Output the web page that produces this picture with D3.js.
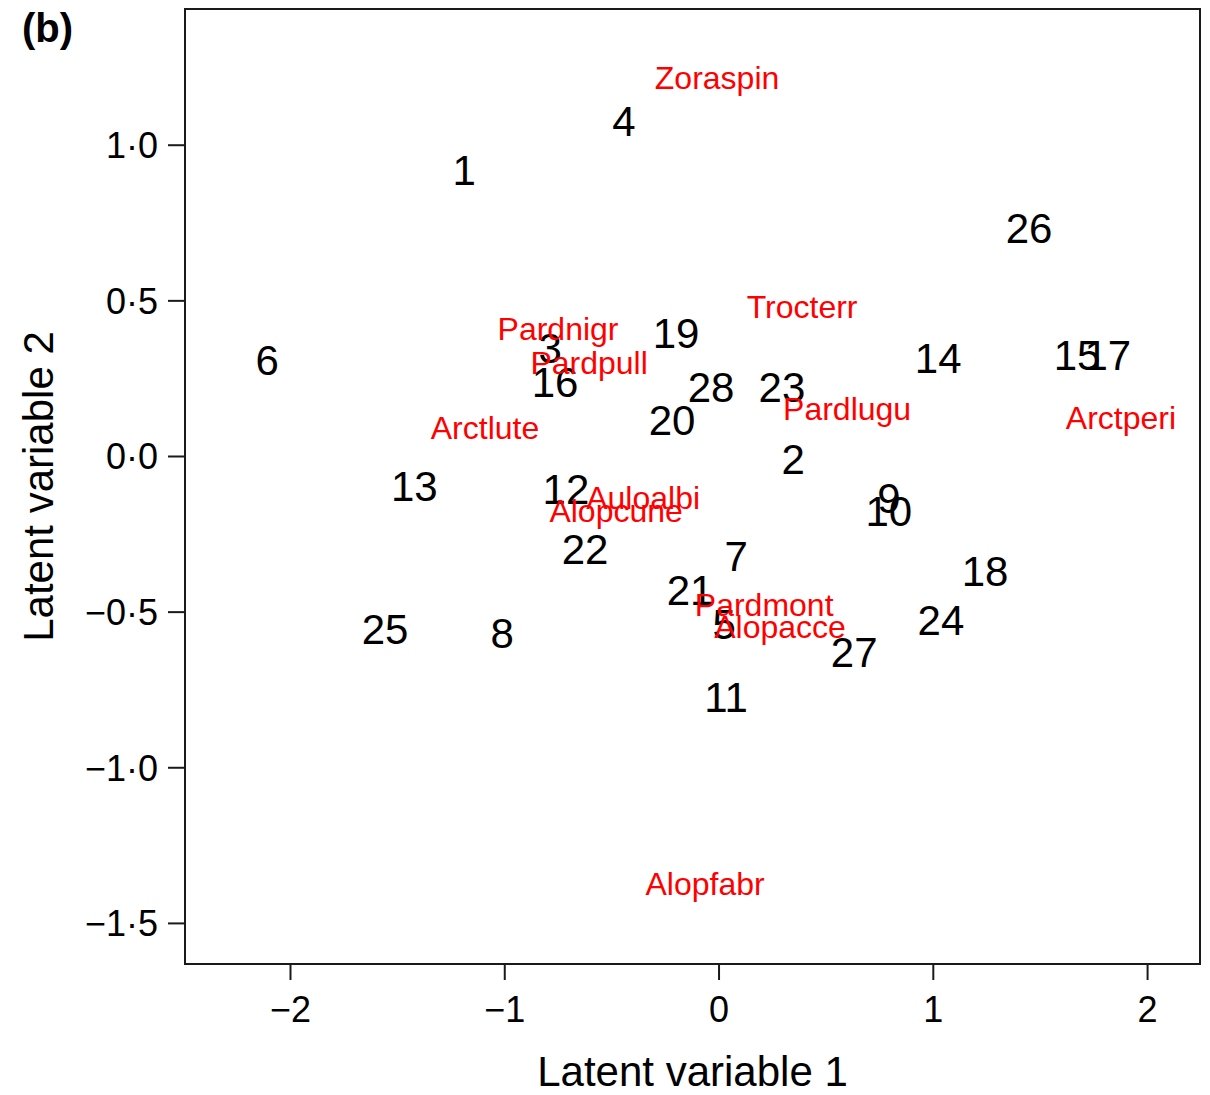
<!DOCTYPE html>
<html>
<head>
<meta charset="utf-8">
<script src="https://cdn.jsdelivr.net/npm/d3@7"></script>
<style>
  html, body { margin: 0; padding: 0; background: #fff; }
  svg { display: block; font-family: "Liberation Sans", Arial, Helvetica, sans-serif; }
</style>
</head>
<body>
<svg id="chart" width="1210" height="1095"></svg>
<script>
// Site scores (latent variables), labelled by site number
const siteLabels = ["1","2","3","4","5","6","7","8","9","10","11","12","13","14","15","16","17","18","19","20","21","22","23","24","25","26","27","28"];
const siteLV1 = [-1.187, 0.348, -0.786, -0.441, 0.026, -2.107, 0.082, -1.010, 0.795, 0.795, 0.035, -0.712, -1.420, 1.025, 1.673, -0.763, 1.817, 1.244, -0.198, -0.217, -0.133, -0.623, 0.296, 1.038, -1.556, 1.449, 0.633, -0.035];
const siteLV2 = [0.919, -0.010, 0.347, 1.076, -0.540, 0.308, -0.321, -0.569, -0.135, -0.177, -0.774, -0.106, -0.096, 0.315, 0.324, 0.238, 0.324, -0.370, 0.395, 0.116, -0.431, -0.299, 0.222, -0.527, -0.556, 0.733, -0.630, 0.222];

// Species loadings
const speciesLabels = ["Zoraspin","Trocterr","Pardnigr","Pardpull","Arctlute","Pardlugu","Arctperi","Auloalbi","Alopcune","Pardmont","Alopacce","Alopfabr"];
const speciesLV1 = [-0.007, 0.390, -0.749, -0.604, -1.090, 0.600, 1.878, -0.352, -0.478, 0.213, 0.287, -0.063];
const speciesLV2 = [1.215, 0.479, 0.408, 0.299, 0.090, 0.154, 0.122, -0.132, -0.174, -0.476, -0.549, -1.372];

// Axis ticks
const xTicks = [-2, -1, 0, 1, 2];
const xTickLabels = ["\u22122", "\u22121", "0", "1", "2"];
const yTicks = [1.0, 0.5, 0.0, -0.5, -1.0, -1.5];
const yTickLabels = ["1\u00B70", "0\u00B75", "0\u00B70", "\u22120\u00B75", "\u22121\u00B70", "\u22121\u00B75"];

const xTitle = "Latent variable 1";
const yTitle = "Latent variable 2";
const panelLabel = "(b)";

const svg = d3.select("#chart");
const mLeft = 185, mRight = 1200, mTop = 9, mBottom = 964;

const x = d3.scaleLinear().domain([-2.49, 2.247]).range([mLeft, mRight]);
const y = d3.scaleLinear().domain([-1.632, 1.436]).range([mBottom, mTop]);

const ink = "#1a1a1a";

// X axis
const xAxis = d3.axisBottom(x).tickValues(xTicks)
  .tickFormat((d, i) => xTickLabels[i]).tickSize(16).tickPadding(8);
const gx = svg.append("g").attr("transform", `translate(0,${mBottom})`).call(xAxis);
gx.select(".domain").remove();
gx.selectAll(".tick line").attr("stroke", ink).attr("stroke-width", 2);
gx.selectAll(".tick text").attr("fill", "#000").attr("font-size", 36)
  .attr("font-family", "Liberation Sans, Arial, sans-serif").attr("dy", "0.95em");

// Y axis
const yAxis = d3.axisLeft(y).tickValues(yTicks)
  .tickFormat((d, i) => yTickLabels[i]).tickSize(17).tickPadding(10);
const gy = svg.append("g").attr("transform", `translate(${mLeft},0)`).call(yAxis);
gy.select(".domain").remove();
gy.selectAll(".tick line").attr("stroke", ink).attr("stroke-width", 2);
gy.selectAll(".tick text").attr("fill", "#000").attr("font-size", 36)
  .attr("font-family", "Liberation Sans, Arial, sans-serif").attr("dy", "0.36em");

// Plot box
svg.append("rect").attr("x", mLeft).attr("y", mTop)
  .attr("width", mRight - mLeft).attr("height", mBottom - mTop)
  .attr("fill", "none").attr("stroke", ink).attr("stroke-width", 2);

// Site numbers
svg.append("g").selectAll("text").data(siteLabels).join("text")
  .attr("x", (d, i) => x(siteLV1[i]))
  .attr("y", (d, i) => y(siteLV2[i]))
  .attr("dy", "0.358em")
  .attr("text-anchor", "middle")
  .attr("font-size", 42)
  .attr("fill", "#000")
  .text(d => d);

// Species names
svg.append("g").selectAll("text").data(speciesLabels).join("text")
  .attr("x", (d, i) => x(speciesLV1[i]))
  .attr("y", (d, i) => y(speciesLV2[i]))
  .attr("dy", "0.358em")
  .attr("text-anchor", "middle")
  .attr("font-size", 32)
  .attr("fill", "#ff0000")
  .text(d => d);

// Axis titles
svg.append("text").attr("x", (mLeft + mRight) / 2).attr("y", 1086)
  .attr("text-anchor", "middle").attr("font-size", 42).attr("fill", "#000").text(xTitle);
svg.append("text").attr("transform", `translate(53,${(mTop + mBottom) / 2}) rotate(-90)`)
  .attr("text-anchor", "middle").attr("font-size", 42).attr("fill", "#000").text(yTitle);

// Panel label
svg.append("text").attr("x", 22).attr("y", 42)
  .attr("font-size", 40).attr("font-weight", "bold").attr("fill", "#000").text(panelLabel);
</script>
</body>
</html>
